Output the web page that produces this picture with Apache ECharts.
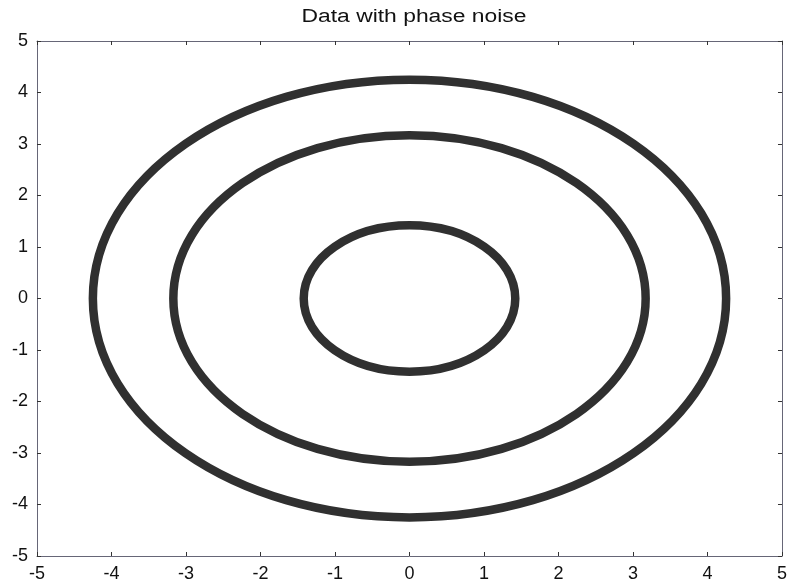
<!DOCTYPE html>
<html>
<head>
<meta charset="utf-8">
<script src="https://cdn.jsdelivr.net/npm/echarts@6/dist/echarts.min.js"></script>
<style>
  html, body { margin: 0; padding: 0; background: #fff; }
  #chart { width: 790px; height: 585px; }
</style>
</head>
<body>
<div id="chart"></div>
<script>
// Ring centres and radii (axis units)
const ringCenterX = [0, 0, 0];
const ringCenterY = [0, 0, 0];
const ringRadius = [4.25, 3.17, 1.42];

// Axis tick labels
const xTicks = [-5, -4, -3, -2, -1, 0, 1, 2, 3, 4, 5];
const yTicks = [-5, -4, -3, -2, -1, 0, 1, 2, 3, 4, 5];

const titleText = 'Data with phase noise';

const ringData = ringRadius.map((r, i) => [ringCenterX[i], ringCenterY[i], r]);

const chart = echarts.init(document.getElementById('chart'));

const FONT = 'Liberation Sans, Arial, sans-serif';
const tickStyle = { show: true, inside: true, length: 4, lineStyle: { color: '#333', width: 1 } };
const lineStyle = { show: true, onZero: false, lineStyle: { color: '#667', width: 1 } };
const labelFont = { fontFamily: FONT, fontSize: 18, color: '#111' };

chart.setOption({
  backgroundColor: '#fff',
  animation: false,
  // Title drawn as a text element so it can be widened horizontally
  graphic: [
    {
      type: 'text',
      x: 414,
      y: 8,
      scaleX: 1.27,
      style: {
        text: titleText,
        font: '18px ' + FONT,
        fill: '#111',
        align: 'center',
        verticalAlign: 'top'
      }
    }
  ],
  grid: { left: 37, right: 2, top: 41, bottom: 29 },
  xAxis: [
    {
      type: 'value', min: xTicks[0], max: xTicks[xTicks.length - 1], interval: 1,
      position: 'bottom',
      axisLine: lineStyle, axisTick: tickStyle, splitLine: { show: false },
      axisLabel: Object.assign({ margin: 9 }, labelFont)
    },
    {
      type: 'value', min: xTicks[0], max: xTicks[xTicks.length - 1], interval: 1,
      position: 'top',
      axisLine: lineStyle, axisTick: tickStyle, splitLine: { show: false },
      axisLabel: { show: false }
    }
  ],
  yAxis: [
    {
      type: 'value', min: yTicks[0], max: yTicks[yTicks.length - 1], interval: 1,
      position: 'left',
      axisLine: lineStyle, axisTick: tickStyle, splitLine: { show: false },
      axisLabel: Object.assign({ margin: 9 }, labelFont)
    },
    {
      type: 'value', min: yTicks[0], max: yTicks[yTicks.length - 1], interval: 1,
      position: 'right',
      axisLine: lineStyle, axisTick: tickStyle, splitLine: { show: false },
      axisLabel: { show: false }
    }
  ],
  series: [
    {
      type: 'custom',
      xAxisIndex: 0,
      yAxisIndex: 0,
      data: ringData,
      renderItem: function (params, api) {
        const c = api.coord([api.value(0), api.value(1)]);
        const s = api.size([api.value(2), api.value(2)]);
        return {
          type: 'ellipse',
          shape: { cx: c[0], cy: c[1], rx: s[0], ry: s[1] },
          style: { fill: 'none', stroke: '#303030', lineWidth: 8.5 }
        };
      }
    }
  ]
});
</script>
</body>
</html>
